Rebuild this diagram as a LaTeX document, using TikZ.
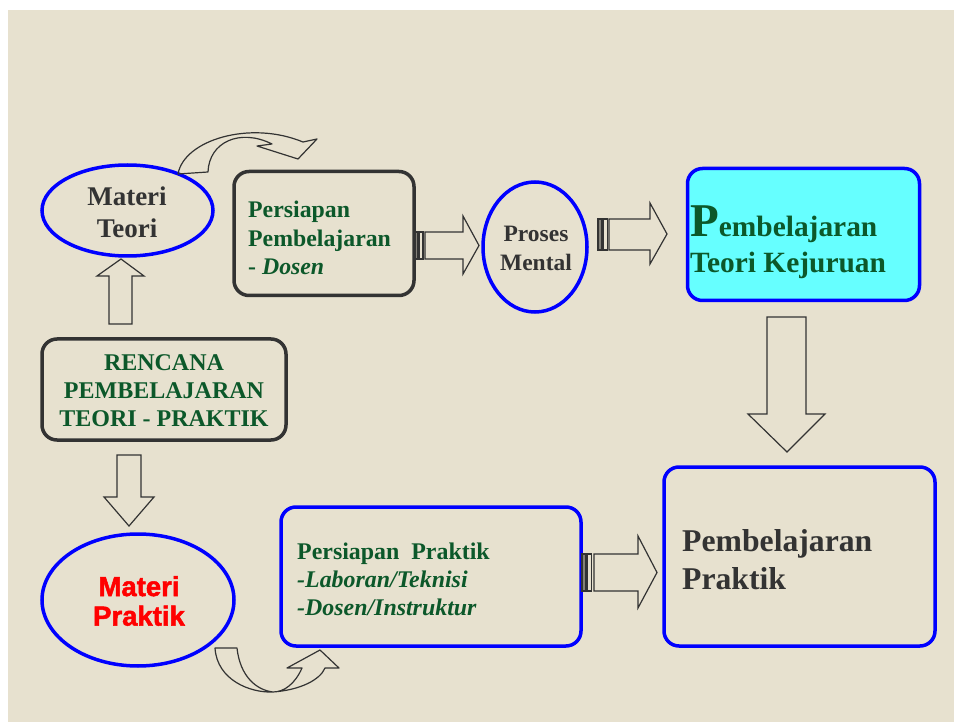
\documentclass[tikz,border=0pt]{standalone}
\usepackage{fontspec}
\setmainfont{Liberation Serif}
\newfontface\heavyface{Liberation Sans Bold}[RawFeature={embolden=1.8}]
\usetikzlibrary{shapes.geometric}

\definecolor{paper}{RGB}{231,225,207}
\definecolor{ink}{RGB}{51,51,51}
\definecolor{leaf}{RGB}{12,88,42}
\definecolor{frameblue}{RGB}{0,0,255}
\definecolor{aqua}{RGB}{102,255,255}
\definecolor{alarm}{RGB}{255,0,0}

\newcommand\fsz[2]{\fontsize{#1}{#2}\selectfont}

\begin{document}
\begin{tikzpicture}[x=1pt,y=-1pt,
  bubble/.style={ellipse, draw=frameblue, line width=3.5pt, inner sep=0pt},
  greybox/.style={rectangle, rounded corners=15pt, draw=ink, line width=3.5pt, inner sep=0pt},
  bluebox/.style={rectangle, rounded corners=15pt, draw=frameblue, line width=3.5pt, inner sep=0pt},
  blockarrow/.style={draw=ink, line width=1.2pt, line join=miter},
  stripedark/.style={draw=ink, line width=1.2pt, fill=ink!55!paper},
  stripelight/.style={draw=ink, line width=1.2pt},
  label/.style={inner sep=0pt, font=\bfseries}
]
% page and slide background
\fill[white] (0,0) rectangle (954,722);
\useasboundingbox (0,0) rectangle (954,722);
\fill[paper] (8,10) rectangle (954,722);

% ---------- shapes ----------
\node[bubble, minimum width=171pt, minimum height=91pt] (teori) at (127.5,210.5) {};
\node[greybox, minimum width=180pt, minimum height=124pt] (prep) at (324,233.5) {};
\node[bubble, minimum width=104pt, minimum height=130pt] (mental) at (535,247) {};
\node[bluebox, fill=aqua, minimum width=232pt, minimum height=132pt] (kejuruan) at (803.5,234.5) {};
\node[greybox, minimum width=244pt, minimum height=101pt] (rencana) at (164,389.5) {};
\node[bubble, minimum width=192pt, minimum height=132pt] (mpraktik) at (138,600) {};
\node[bluebox, minimum width=300pt, minimum height=139pt] (prakprep) at (431,576.5) {};
\node[bluebox, minimum width=271pt, minimum height=179pt] (praktik) at (799.5,556.5) {};

% ---------- texts ----------
\node[label, text=ink, align=center, font=\bfseries\fsz{27}{32}] (teoritxt) at (127,212) {Materi\\Teori};
\node[label, text=leaf, align=left, anchor=west, font=\bfseries\fsz{23.8}{28.5}] (preptxt) at (248,238) {Persiapan\\Pembelajaran\\- \textit{Dosen}};
\node[label, text=ink, align=center, font=\bfseries\fsz{23.5}{29}] (mentaltxt) at (536,248) {Proses\\Mental};
\node[label, text=leaf, align=left, anchor=west, font=\bfseries\fsz{29.4}{36}] (kejtxt) at (690,242) {{\fsz{47}{47}P}embelajaran\\Teori Kejuruan};
\node[label, text=leaf, align=center, font=\bfseries\fsz{24}{28}] (rencanatxt) at (164,391) {RENCANA\\PEMBELAJARAN\\TEORI - PRAKTIK};
\node[label, text=alarm, align=center, font=\heavyface\fsz{27.5}{29.5}] (mpraktiktxt) at (139,601) {Materi\\Praktik};
\node[label, text=leaf, align=left, anchor=west, font=\bfseries\fsz{23.9}{28}] (prakpreptxt) at (297,579) {Persiapan~~Praktik\\\textit{-Laboran/Teknisi}\\\textit{-Dosen/Instruktur}};
\node[label, text=ink, align=left, anchor=west, font=\bfseries\fsz{31.7}{38}] (praktiktxt) at (682,560) {Pembelajaran\\Praktik};

% ---------- block arrows ----------
% plan -> theory material (up)
\draw[blockarrow] (109,324) -- (109,276) -- (97,276) -- (121,259) -- (144,276) -- (132,276) -- (132,324) -- cycle;
% plan -> practice material (down)
\draw[blockarrow] (117,455) -- (141,455) -- (141,497) -- (154,497) -- (129,526) -- (104,497) -- (117,497) -- cycle;
% theory preparation -> mental process (striped)
\draw[stripedark] (415,232) rectangle (418,259);
\draw[stripelight] (419.5,232) rectangle (423,259);
\draw[blockarrow] (425,232) -- (463,232) -- (463,216) -- (479,245.5) -- (463,274) -- (463,259) -- (425,259) -- cycle;
% mental process -> theory learning (striped)
\draw[stripedark] (598,219) rectangle (602,250);
\draw[stripelight] (603.5,219) rectangle (607.5,250);
\draw[blockarrow] (609,219) -- (650,219) -- (650,203) -- (667,234) -- (650,264) -- (650,250) -- (609,250) -- cycle;
% practice preparation -> practice learning (striped)
\draw[stripedark] (582,554) rectangle (586,591);
\draw[stripelight] (587.5,554) rectangle (591.5,591);
\draw[blockarrow] (594,554) -- (638,554) -- (638,536) -- (657,572.5) -- (638,608) -- (638,591) -- (594,591) -- cycle;
% theory learning -> practice learning (down)
\draw[blockarrow] (767,317) -- (806,317) -- (806,414) -- (825,414) -- (787,452) -- (748,414) -- (767,414) -- cycle;

% ---------- curved arrows ----------
% theory material -> theory preparation
\draw[blockarrow, line join=round]
  (178,174) .. controls (184,140) and (250,120) .. (303,142)
  -- (317,139) -- (298,159) -- (257,146) -- (272,144)
  .. controls (240,128) and (209,142) .. (208,172) -- cycle;
% practice material -> practice preparation
\draw[blockarrow, line join=round]
  (215,648) .. controls (217,680) and (250,693) .. (273,692)
  .. controls (300,690) and (320,680) .. (325,668)
  -- (339,668) -- (320,650) -- (287,668) -- (302,668)
  .. controls (295,684) and (284,692) .. (273,692)
  .. controls (256,690) and (240,676) .. (237,648) -- cycle;
\end{tikzpicture}
\end{document}
